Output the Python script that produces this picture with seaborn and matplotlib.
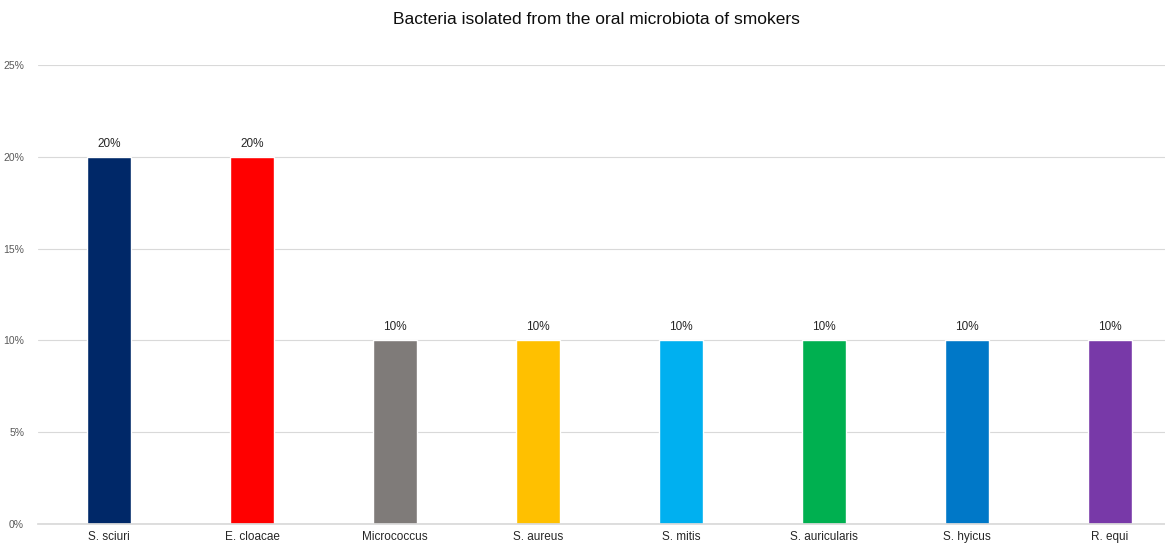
import matplotlib
matplotlib.use("Agg")
import matplotlib.pyplot as plt
import seaborn as sns
import pandas as pd
from matplotlib.ticker import PercentFormatter

categories = ["S. sciuri", "E. cloacae", "Micrococcus", "S. aureus", "S. mitis",
              "S. auricularis", "S. hyicus", "R. equi"]
values = [20, 20, 10, 10, 10, 10, 10, 10]
colors = ["#002868", "#FF0000", "#7F7B79", "#FFC000", "#00B0F0", "#00B050", "#0078C8", "#7839A8"]
yticks = [0, 5, 10, 15, 20, 25]

sns.set_theme(style="white")
plt.rcParams['font.family'] = ['Liberation Sans', 'DejaVu Sans']

df = pd.DataFrame({"cat": categories, "val": values})

W, H = 1165, 545
fig = plt.figure(figsize=(W / 100, H / 100), dpi=100)
ax = fig.add_axes([38 / W, (H - 524) / H, (1165 - 38) / W, (524 - 65) / H])

sns.barplot(data=df, x="cat", y="val", hue="cat", palette=colors, width=0.31,
            legend=False, ax=ax, saturation=1)

ax.set_xlim((38 - 109) / 143, (1165 - 109) / 143)
ax.set_ylim(0, 25)
ax.set_yticks(yticks)
ax.yaxis.set_major_formatter(PercentFormatter(decimals=0))
ax.grid(axis="y", color="#D9D9D9", linewidth=0.8)
ax.set_axisbelow(True)
for s in ["top", "right", "left"]:
    ax.spines[s].set_visible(False)
ax.spines["bottom"].set_color("#D9D9D9")
ax.tick_params(axis="y", labelsize=7.5, labelcolor="#595959", length=0, pad=10)
ax.tick_params(axis="x", labelsize=8.5, labelcolor="#262626", length=0, pad=5)
ax.set_xlabel("")
ax.set_ylabel("")

for c in ax.containers:
    ax.bar_label(c, labels=[f"{v:.0f}%" for v in c.datavalues], fontsize=8.5,
                 color="#262626", padding=5)

fig.text((393 + 800) / 2 / W, 1 - 19 / H, "Bacteria isolated from the oral microbiota of smokers",
         ha="center", va="center", fontsize=12.5, color="#0D0D0D")

fig.savefig("out.png", dpi=100)
